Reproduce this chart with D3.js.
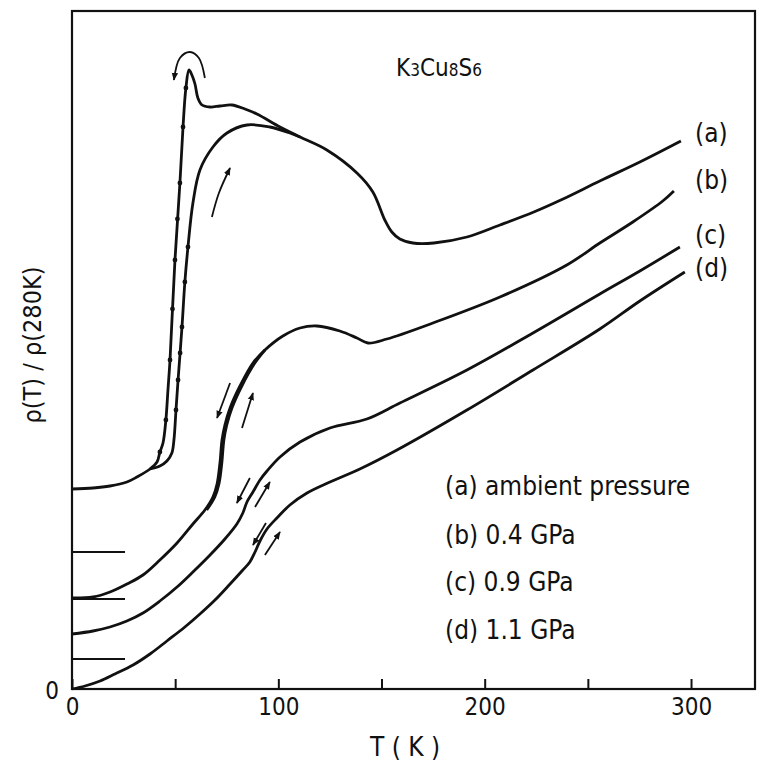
<!DOCTYPE html>
<html>
<head>
<meta charset="utf-8">
<script src="https://cdn.jsdelivr.net/npm/d3@7"></script>
<style>
  body { margin: 0; background: #fff; }
  text { font-family: "DejaVu Sans Condensed", "Liberation Sans Narrow", "DejaVu Sans", sans-serif; fill: #111; }
</style>
</head>
<body>
<script>
// ---------- data (T in K, y = offset normalized resistivity, arbitrary units) ----------
const xTicks = [0, 50, 100, 150, 200, 250, 300];
const xTickLabels = [0, 100, 200, 300];
const curveNames = ["(a)", "(b)", "(c)", "(d)"];
const legendLabels = ["(a) ambient pressure", "(b) 0.4 GPa", "(c) 0.9 GPa", "(d) 1.1 GPa"];

// (a) ambient pressure: cooling branch + high-T part
const curveA = [[0,2.00],[10.2,2.01],[18.4,2.03],[26.6,2.07],[31.5,2.12],[37.8,2.20],[41.2,2.27],[42.6,2.37],[44.1,2.46],[45.5,2.69],[46.5,2.99],[47.5,3.29],[49.9,4.29],[52.3,5.06],[53.8,5.62],[55.2,6.01],[56.7,6.19],[58.1,6.14],[59.6,6.05],[61.0,5.91],[63.0,5.84],[66.9,5.82],[71.7,5.83],[77.5,5.84],[83.8,5.80],[89.6,5.75],[100.8,5.62],[110.5,5.52],[123.5,5.39],[138.1,5.16],[145.8,4.97],[151.6,4.69],[155.0,4.57],[158.9,4.50],[165.2,4.46],[175.4,4.46],[191.4,4.52],[207.4,4.64],[223.8,4.77],[236.9,4.89],[255.8,5.08],[275.2,5.27],[295.1,5.48]];
// (a) warming branch
const curveAwarm = [[37.8,2.20],[42.6,2.23],[46.0,2.28],[48.4,2.36],[49.4,2.49],[50.4,2.79],[51.4,3.09],[53.3,3.62],[54.7,4.07],[56.2,4.42],[58.6,4.86],[62.0,5.19],[68.3,5.42],[75.1,5.56],[84.8,5.64],[95.9,5.62],[105.6,5.56],[110.5,5.52]];
// measured points marked on the (a) transition branches
const pointsA = [[42.6,2.37],[45.5,2.69],[47.5,3.29],[48.7,3.80],[49.9,4.29],[51.1,4.70],[52.3,5.06],[53.8,5.62],[55.2,6.01],[50.4,2.79],[51.4,3.09],[52.4,3.36],[53.3,3.62],[54.7,4.07],[56.2,4.42]];
// (b) 0.4 GPa
const curveB = [[0,0.91],[10.2,0.92],[18.4,0.97],[26.6,1.05],[34.4,1.14],[42.6,1.29],[50.9,1.46],[58.6,1.65],[64.4,1.79],[68.3,1.92],[70.3,2.05],[71.7,2.26],[72.7,2.49],[74.1,2.64],[76.6,2.81],[81.4,3.03],[87.7,3.26],[93.5,3.39],[102.2,3.53],[110.5,3.61],[118.7,3.63],[129.8,3.58],[138.1,3.51],[143.4,3.46],[152.6,3.50],[174.9,3.66],[207.4,3.92],[239.8,4.24],[255.8,4.46],[271.8,4.67],[286.3,4.88],[291.7,4.98]];
const curveBwarm = [[65.3,1.79],[69.2,1.92],[71.2,2.05],[72.6,2.26],[73.6,2.49],[75.0,2.64],[77.5,2.81],[82.3,3.03],[88.6,3.26],[93.5,3.39]];
// (c) 0.9 GPa
const curveC = [[0,0.55],[10.2,0.58],[18.4,0.62],[26.6,0.68],[34.4,0.76],[42.6,0.88],[50.9,1.02],[58.6,1.17],[66.9,1.34],[74.1,1.50],[79.9,1.65],[82.8,1.76],[84.8,1.87],[87.7,1.97],[91.1,2.09],[94.5,2.18],[100.8,2.32],[110.5,2.47],[125.0,2.61],[142.9,2.70],[158.9,2.86],[191.4,3.19],[223.4,3.56],[255.8,3.95],[275.2,4.18],[294.6,4.42]];
// (d) 1.1 GPa
const curveD = [[0,0.00],[6.3,0.03],[13.6,0.08],[20.8,0.15],[29.6,0.24],[37.8,0.35],[46.0,0.48],[54.7,0.62],[62.0,0.75],[69.3,0.89],[76.6,1.05],[82.8,1.19],[86.2,1.27],[88.7,1.37],[91.1,1.48],[94.5,1.60],[99.3,1.71],[105.6,1.84],[113.9,1.96],[125.0,2.07],[139.5,2.20],[157.5,2.39],[191.4,2.79],[223.4,3.19],[255.8,3.60],[275.2,3.88],[297.0,4.17]];

// hysteresis arrows (start ... end, arrowhead at end)
const arrows = [
  [[64.4,6.11],[61.5,6.31],[57.2,6.37],[52.3,6.31],[49.4,6.09]],
  [[67.8,4.72],[71.2,4.96],[76.6,5.21]],
  [[76.6,3.06],[70.3,2.71]],
  [[82.4,2.61],[87.7,2.96]],
  [[86.2,2.11],[79.9,1.86]],
  [[88.7,1.82],[95.9,2.07]],
  [[94.0,1.66],[87.7,1.44]],
  [[93.5,1.34],[100.8,1.57]]
];
// short zero-level markers at left axis
const zeroMarks = [1.37, 0.90, 0.30];
const zeroMarkEnd = 25.7;

// ---------- drawing ----------
const W = 763, H = 769;
const svg = d3.select("body").append("svg").attr("width", W).attr("height", H);
const x = d3.scaleLinear().domain([0, 331]).range([72, 755]);
const y = d3.scaleLinear().domain([0, 6.78]).range([689, 11]);

svg.append("defs").append("marker")
  .attr("id", "ah").attr("viewBox", "0 0 10 10").attr("refX", 9).attr("refY", 5)
  .attr("markerWidth", 8).attr("markerHeight", 8).attr("markerUnits", "userSpaceOnUse")
  .attr("orient", "auto")
  .append("path").attr("d", "M0,1 L10,5 L0,9 Z").attr("fill", "#111");

// frame
svg.append("rect")
  .attr("x", x(0)).attr("y", y(6.78))
  .attr("width", x(331) - x(0)).attr("height", y(0) - y(6.78))
  .attr("fill", "none").attr("stroke", "#111").attr("stroke-width", 2.2);

// bottom axis
const ax = svg.append("g").attr("transform", `translate(0,${y(0)})`)
  .call(d3.axisBottom(x).tickValues(xTicks).tickSize(-10).tickPadding(9)
    .tickFormat(d => xTickLabels.includes(d) ? d : ""));
ax.select(".domain").remove();
ax.selectAll(".tick line").attr("stroke", "#111").attr("stroke-width", 2);
ax.selectAll(".tick text").style("font-size", "24px").attr("fill", "#111");

// y zero label
svg.append("text").attr("x", x(0) - 13).attr("y", y(0) + 2)
  .attr("text-anchor", "end").style("font-size", "24px").attr("dy", "0.35em").text("0");

// axis titles
svg.append("text").attr("x", 405).attr("y", 756).attr("text-anchor", "middle")
  .style("font-size", "26px").text("T ( K )");
svg.append("text").attr("transform", `translate(41,345) rotate(-90)`)
  .attr("text-anchor", "middle").style("font-size", "25px").text("ρ(T) / ρ(280K)");

// zero markers
svg.selectAll(".zm").data(zeroMarks).enter().append("line")
  .attr("x1", x(0)).attr("x2", x(zeroMarkEnd))
  .attr("y1", d => y(d)).attr("y2", d => y(d))
  .attr("stroke", "#111").attr("stroke-width", 2);

// curves
const line = d3.line().x(d => x(d[0])).y(d => y(d[1])).curve(d3.curveCatmullRom.alpha(0.5));
[curveA, curveAwarm, curveB, curveBwarm, curveC, curveD].forEach(c => {
  svg.append("path").attr("d", line(c)).attr("fill", "none")
    .attr("stroke", "#111").attr("stroke-width", 2.8).attr("stroke-linejoin", "round");
});

// data points on (a) transition branches
svg.selectAll(".pt").data(pointsA).enter().append("circle")
  .attr("cx", d => x(d[0])).attr("cy", d => y(d[1])).attr("r", 2.4).attr("fill", "#111");

// arrows
arrows.forEach(a => {
  svg.append("path").attr("d", line(a)).attr("fill", "none")
    .attr("stroke", "#111").attr("stroke-width", 1.8).attr("marker-end", "url(#ah)");
});

// curve labels
const labelY = [142, 189, 244, 277];
svg.selectAll(".cl").data(curveNames).enter().append("text")
  .attr("x", 695).attr("y", (d, i) => labelY[i])
  .style("font-size", "26px").text(d => d);

// legend
const legY = [495, 544, 591, 639];
svg.selectAll(".lg").data(legendLabels).enter().append("text")
  .attr("x", 445).attr("y", (d, i) => legY[i])
  .style("font-size", "26px").text(d => d);

// title K3Cu8S6
const title = svg.append("text").attr("x", 396).attr("y", 76).style("font-size", "24px");
[["K",0],["3",1],["Cu",0],["8",1],["S",0],["6",1]].forEach(([t, sub]) => {
  const ts = title.append("tspan").text(t);
  if (sub) ts.style("font-size", "17px");
});
</script>
</body>
</html>
